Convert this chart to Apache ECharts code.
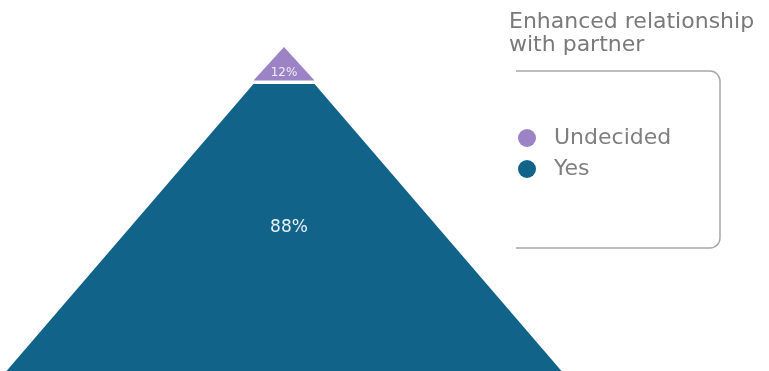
<!DOCTYPE html>
<html>
<head>
<meta charset="utf-8">
<script src="https://cdn.jsdelivr.net/npm/echarts@6/dist/echarts.min.js"></script>
<style>
  html, body { margin: 0; padding: 0; background: #ffffff; }
  #chart { width: 769px; height: 371px; }
</style>
</head>
<body>
<div id="chart"></div>
<script>
// Survey answers: share of respondents (%)
const categories = ['Undecided', 'Yes'];
const shares = [12, 88];
const colors = ['#9b83c6', '#116389'];
const legendTitle = 'Enhanced relationship\nwith partner';

const FONT = '"DejaVu Sans", "Noto Sans", sans-serif';

const chart = echarts.init(document.getElementById('chart'), null, { renderer: 'canvas' });

const seriesData = categories.map((name, i) => ({
  name: name,
  value: shares[i],
  itemStyle: { color: colors[i], height: i === 0 ? 33.5 : 287 },
  label: i === 0
    // blank first line pushes the small label toward the base of the tip
    ? { fontSize: 12, lineHeight: 18, formatter: '\n{c}%', color: '#f1ecf8' }
    : { fontSize: 17, padding: [0, 0, 6, 10], color: '#e9f1f6' }
}));

chart.setOption({
  animation: false,
  title: {
    text: legendTitle,
    left: 509,
    top: 11,
    padding: 0,
    textStyle: {
      fontFamily: FONT,
      fontSize: 22,
      fontWeight: 'normal',
      color: '#7a7a7a',
      lineHeight: 23
    }
  },
  legend: {
    orient: 'vertical',
    left: 518,
    top: 127,
    padding: 0,
    icon: 'circle',
    itemWidth: 44,
    itemHeight: 18,
    itemGap: 9,
    data: categories,
    textStyle: { fontFamily: FONT, fontSize: 22, color: '#7f7f7f' }
  },
  graphic: [
    {
      type: 'rect',
      z: 0,
      shape: { x: 480, y: 71, width: 240, height: 177, r: [0, 10, 10, 0] },
      style: { fill: 'none', stroke: '#a8a8a8', lineWidth: 1.5 }
    },
    {
      type: 'rect',
      z: 1,
      shape: { x: 474, y: 62, width: 42, height: 196 },
      style: { fill: '#ffffff' }
    }
  ],
  series: [
    {
      type: 'funnel',
      sort: 'ascending',
      left: 4,
      width: 560,
      top: 47,
      height: 324,
      min: 2.6,
      max: 88,
      minSize: 0,
      maxSize: 555,
      gap: 3.5,
      funnelAlign: 'center',
      z: 3,
      label: {
        show: true,
        position: 'inside',
        formatter: '{c}%',
        fontFamily: FONT
      },
      labelLine: { show: false },
      itemStyle: { borderWidth: 0 },
      emphasis: { disabled: true },
      data: seriesData
    }
  ]
});
</script>
</body>
</html>
